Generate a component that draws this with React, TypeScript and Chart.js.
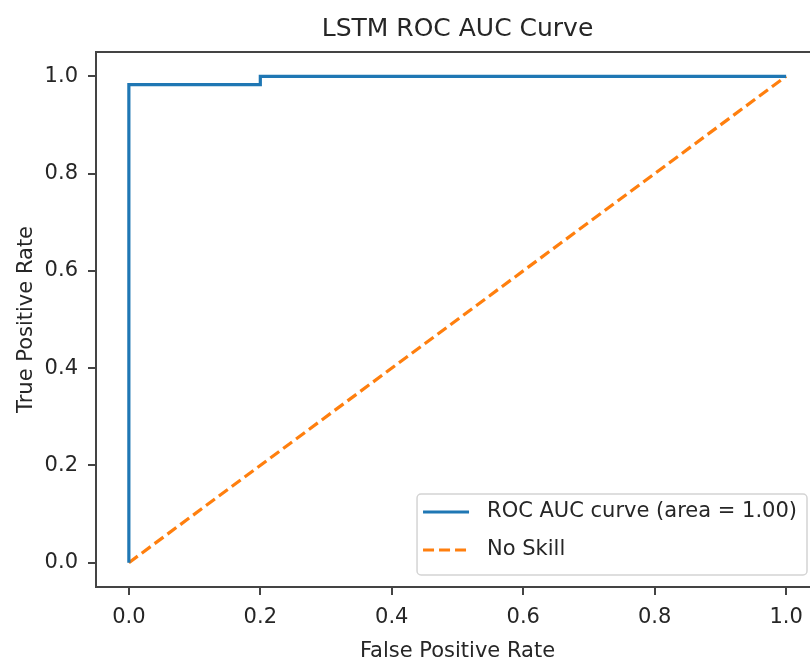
import React, { useEffect, useRef } from "react";
import { Chart, registerables } from "chart.js";

Chart.register(...registerables);

const chartTitle = "LSTM ROC AUC Curve";
const xAxisLabel = "False Positive Rate";
const yAxisLabel = "True Positive Rate";
const seriesLabels = ["ROC AUC curve (area = 1.00)", "No Skill"];
const rocFpr = [0, 0, 0.2, 0.2, 1];
const rocTpr = [0, 0.983, 0.983, 1, 1];
const noSkillFpr = [0, 1];
const noSkillTpr = [0, 1];
const xTicks = [0, 0.2, 0.4, 0.6, 0.8, 1.0];
const yTicks = [0, 0.2, 0.4, 0.6, 0.8, 1.0];

const FONT = "'DejaVu Sans', sans-serif";
const TEXT = "#262626";
const SPINE = "#444444";

const frameAndLegend = {
  id: "frameAndLegend",
  afterDraw(chart: any) {
    const { ctx, chartArea } = chart;
    ctx.save();
    ctx.strokeStyle = SPINE;
    ctx.lineWidth = 2;
    ctx.strokeRect(chartArea.left, chartArea.top, chartArea.right - chartArea.left, chartArea.bottom - chartArea.top);

    // legend
    ctx.font = `21px ${FONT}`;
    const texts = chart.data.datasets.map((d: any) => d.label);
    const tw = Math.max(...texts.map((t: string) => ctx.measureText(t).width));
    const padL = 6, handle = 46, gap = 18, padR = 10;
    const w = padL + handle + gap + tw + padR;
    const h = 81;
    const right = chartArea.right - 12;
    const bottom = chartArea.bottom - 12;
    const left = right - w;
    const top = bottom - h;
    ctx.beginPath();
    ctx.roundRect(left, top, w, h, 4);
    ctx.fillStyle = "rgba(255,255,255,0.85)";
    ctx.fill();
    ctx.strokeStyle = "#d4d4d4";
    ctx.lineWidth = 1.5;
    ctx.stroke();
    chart.data.datasets.forEach((d: any, i: number) => {
      const cy = top + 18 + i * 38;
      ctx.beginPath();
      ctx.strokeStyle = d.borderColor;
      ctx.lineWidth = d.borderWidth;
      ctx.setLineDash(d.borderDash || []);
      ctx.moveTo(left + padL, cy);
      ctx.lineTo(left + padL + handle, cy);
      ctx.stroke();
      ctx.setLineDash([]);
      ctx.fillStyle = TEXT;
      ctx.textAlign = "left";
      ctx.textBaseline = "middle";
      ctx.fillText(d.label, left + padL + handle + gap, cy);
    });
    ctx.restore();
  },
};

export default function App() {
  const ref = useRef<HTMLCanvasElement | null>(null);
  useEffect(() => {
    if (!ref.current) return;
    const chart = new Chart(ref.current, {
      type: "scatter",
      data: {
        datasets: [
          {
            label: seriesLabels[0],
            data: rocFpr.map((x, i) => ({ x, y: rocTpr[i] })),
            showLine: true,
            borderColor: "#1f77b4",
            backgroundColor: "#1f77b4",
            borderWidth: 3.2,
            pointRadius: 0,
            tension: 0,
          },
          {
            label: seriesLabels[1],
            data: noSkillFpr.map((x, i) => ({ x, y: noSkillTpr[i] })),
            showLine: true,
            borderColor: "#ff7f0e",
            backgroundColor: "#ff7f0e",
            borderWidth: 3.2,
            borderDash: [11, 5],
            pointRadius: 0,
            tension: 0,
          },
        ],
      },
      options: {
        responsive: false,
        animation: false,
        layout: { padding: { left: 0, right: 21, top: 0, bottom: 0 } },
        plugins: {
          legend: { display: false },
          tooltip: { enabled: false },
          title: {
            display: true,
            text: chartTitle,
            fullSize: false,
            color: TEXT,
            font: { family: FONT, size: 25, weight: "normal", lineHeight: 1.2 },
            padding: { top: 14.6, bottom: 7.4 },
          },
        },
        scales: {
          x: {
            type: "linear",
            min: -0.05,
            max: 1.05,
            afterBuildTicks: (s: any) => {
              s.ticks = xTicks.map((v) => ({ value: v }));
            },
            afterFit: (s: any) => {
              s.height = 73;
            },
            border: { display: false },
            grid: {
              drawOnChartArea: false,
              drawTicks: true,
              tickLength: 8,
              tickColor: SPINE,
              tickWidth: 2,
              lineWidth: 2,
              color: SPINE,
            },
            ticks: {
              color: TEXT,
              padding: 10,
              maxRotation: 0,
              autoSkip: false,
              font: { family: FONT, size: 21 },
              callback: (v: any) => Number(v).toFixed(1),
            },
            title: {
              display: true,
              text: xAxisLabel,
              color: TEXT,
              font: { family: FONT, size: 21, lineHeight: 1.2 },
              padding: { top: 0, bottom: -4.4 },
            },
          },
          y: {
            type: "linear",
            min: -0.05,
            max: 1.05,
            afterBuildTicks: (s: any) => {
              s.ticks = yTicks.map((v) => ({ value: v }));
            },
            afterFit: (s: any) => {
              s.width = 96;
            },
            border: { display: false },
            grid: {
              drawOnChartArea: false,
              drawTicks: true,
              tickLength: 8,
              tickColor: SPINE,
              tickWidth: 2,
              lineWidth: 2,
              color: SPINE,
            },
            ticks: {
              color: TEXT,
              padding: 10,
              autoSkip: false,
              font: { family: FONT, size: 21 },
              callback: (v: any) => Number(v).toFixed(1),
            },
            title: {
              display: true,
              text: yAxisLabel,
              color: TEXT,
              font: { family: FONT, size: 21, lineHeight: 1.2 },
              padding: { top: 14, bottom: 0 },
            },
          },
        },
      },
      plugins: [frameAndLegend],
    });
    return () => chart.destroy();
  }, []);
  return (
    <div
      style={{
        position: "fixed",
        left: 0,
        top: 0,
        width: 810,
        height: 660,
        overflow: "hidden",
        background: "#ffffff",
      }}
    >
      <canvas ref={ref} width={840} height={660} style={{ display: "block" }} />
    </div>
  );
}
